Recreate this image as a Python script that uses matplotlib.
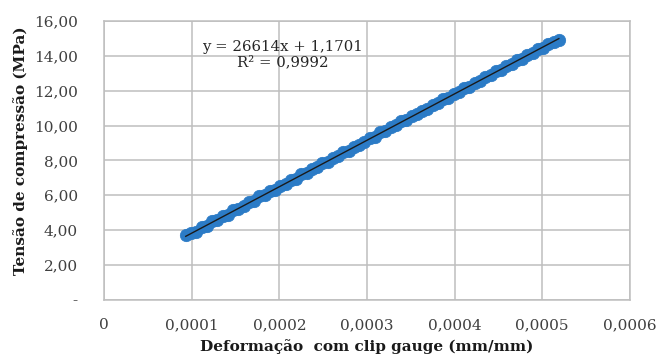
import numpy as np
import matplotlib
matplotlib.use("Agg")
import matplotlib.pyplot as plt
from matplotlib.ticker import FixedLocator, FixedFormatter

# ── Data (strain in micro mm/mm, stress in MPa) ──────────────────
strain_micro = [93, 99, 105, 111, 117, 123, 129, 135, 141, 147, 153, 159,
                165, 171, 177, 183, 189, 195, 201, 207, 213, 219, 225, 231,
                237, 243, 249, 255, 261, 267, 273, 279, 285, 291, 297, 303,
                309, 315, 321, 327, 333, 339, 345, 351, 357, 363, 369, 375,
                381, 387, 393, 399, 405, 411, 417, 423, 429, 435, 441, 447,
                453, 459, 465, 471, 477, 483, 489, 495, 501, 507, 513, 519]
stress = [3.72, 3.86, 3.92, 4.18, 4.25, 4.50, 4.58, 4.80, 4.88, 5.13, 5.20, 5.38,
          5.60, 5.68, 5.93, 5.99, 6.24, 6.31, 6.55, 6.64, 6.88, 6.95, 7.20, 7.27,
          7.52, 7.60, 7.83, 7.92, 8.15, 8.24, 8.47, 8.56, 8.79, 8.87, 9.03, 9.27,
          9.35, 9.60, 9.68, 9.90, 10.01, 10.23, 10.31, 10.55, 10.64, 10.86, 10.95, 11.19,
          11.27, 11.50, 11.58, 11.82, 11.91, 12.14, 12.23, 12.46, 12.55, 12.78, 12.87, 13.10,
          13.19, 13.42, 13.50, 13.74, 13.83, 14.06, 14.15, 14.37, 14.46, 14.70, 14.78, 14.92]

slope, intercept = 26614, 1.1701
eq_text = "y = 26614x + 1,1701\nR² = 0,9992"

x_ticks = [0, 0.0001, 0.0002, 0.0003, 0.0004, 0.0005, 0.0006]
x_labels = ["0", "0,0001", "0,0002", "0,0003", "0,0004", "0,0005", "0,0006"]
y_ticks = [0, 2, 4, 6, 8, 10, 12, 14, 16]
y_labels = ["-", "2,00", "4,00", "6,00", "8,00", "10,00", "12,00", "14,00", "16,00"]

_BLUE = "#2B7BC6"
_GRID = "#BEBEBE"
_TXT = "#404040"
_SERIF = ["DejaVu Serif"]

x = np.array(strain_micro) * 1e-6
y = np.array(stress)

fig = plt.figure(figsize=(6.56, 3.60), dpi=100, facecolor="white")
ax = fig.add_axes([0.159, 0.167, 0.801, 0.775])

ax.scatter(x, y, s=80, marker="o", color=_BLUE, edgecolors=_BLUE,
           linewidths=0.5, zorder=3)
ax.scatter(x, y, s=40, marker="D", color=_BLUE, linewidths=0, zorder=3)
xt = np.array([x[0], x[-1]])
ax.plot(xt, slope * xt + intercept, color="#1A1A1A", lw=1.0, zorder=4)

ax.set_xlim(0, 0.0006)
ax.set_ylim(0, 16)
ax.xaxis.set_major_locator(FixedLocator(x_ticks))
ax.xaxis.set_major_formatter(FixedFormatter(x_labels))
ax.yaxis.set_major_locator(FixedLocator(y_ticks))
ax.yaxis.set_major_formatter(FixedFormatter(y_labels))
ax.grid(True, color=_GRID, lw=1.1, zorder=0)
for sp in ax.spines.values():
    sp.set_color(_GRID)
    sp.set_linewidth(1.1)
ax.tick_params(length=0, labelsize=11, colors=_TXT, pad=13)
ax.tick_params(axis="y", pad=19)
for lab in ax.get_xticklabels() + ax.get_yticklabels():
    lab.set_family(_SERIF)

ax.text(0.3395, 0.88, eq_text, transform=ax.transAxes, ha="center", va="center",
        fontsize=10.7, color="#262626", family=_SERIF, linespacing=1.1)

ax.set_xlabel("Deformação  com clip gauge (mm/mm)", fontsize=11, fontweight="bold",
              family=_SERIF, color="#1A1A1A", labelpad=5)
ax.set_ylabel("Tensão de compressão (MPa)", fontsize=11, fontweight="bold",
              family=_SERIF, color="#1A1A1A")
ax.yaxis.set_label_coords(-0.145, 0.535)

fig.savefig("out.png", dpi=100, facecolor="white")
